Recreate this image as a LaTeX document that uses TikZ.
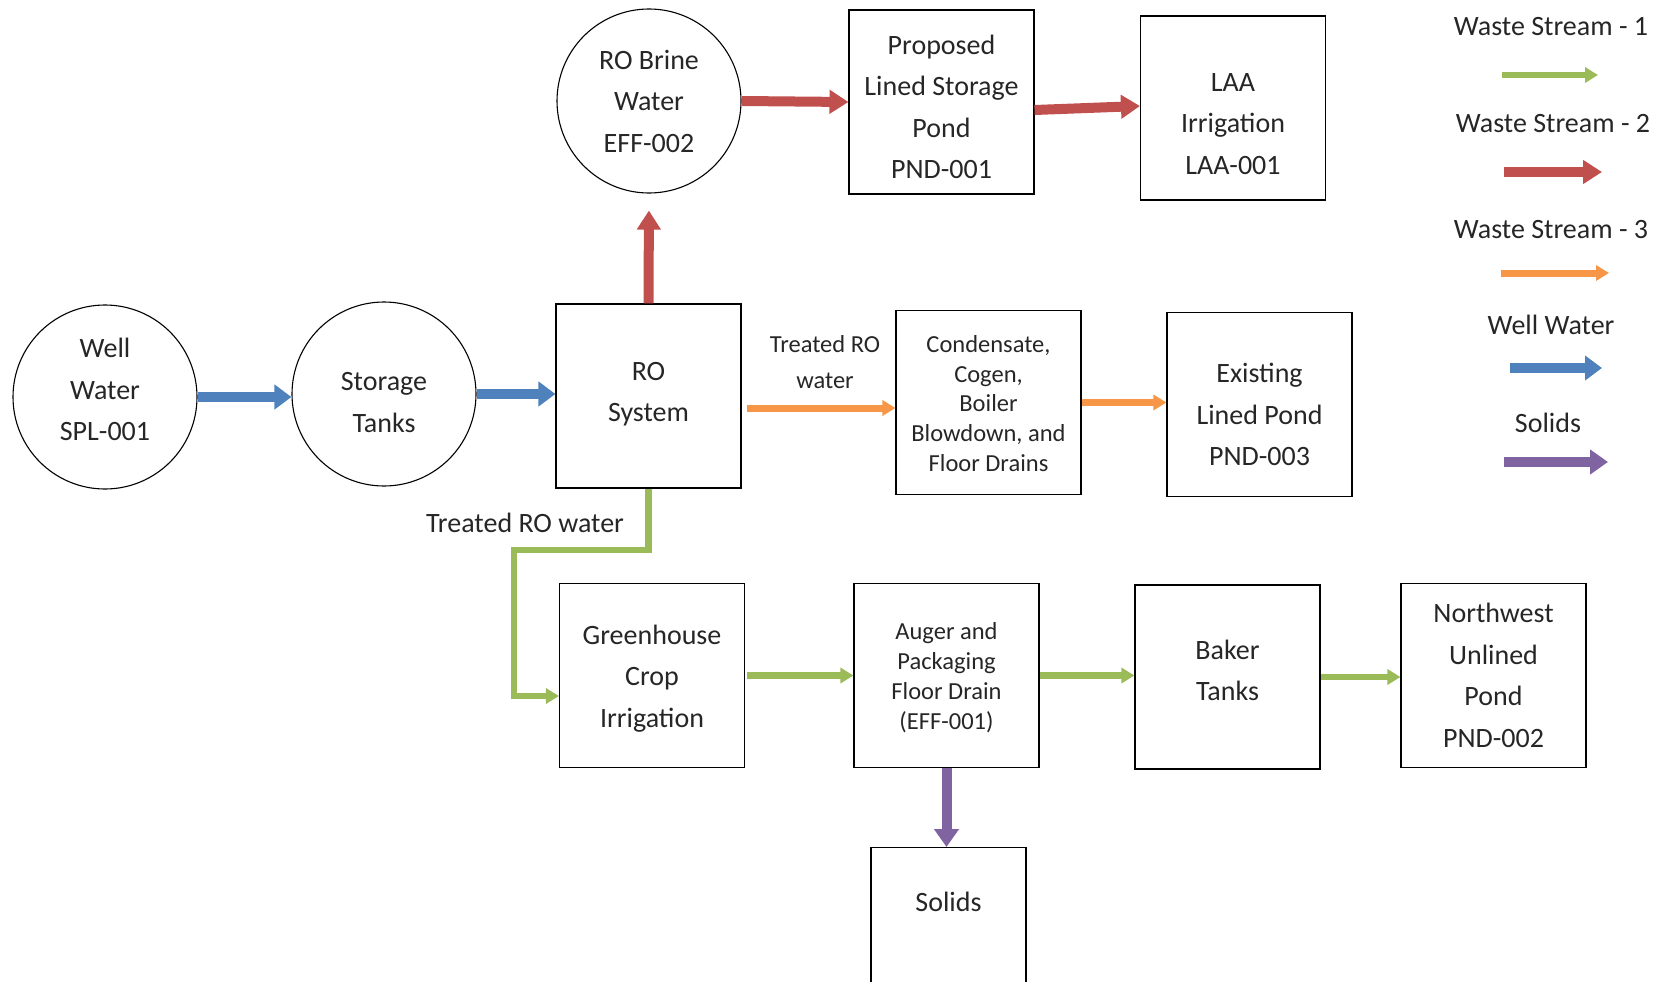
\documentclass[tikz,border=0pt]{standalone}
\usepackage{fontspec}
\setmainfont{Carlito}
\usetikzlibrary{arrows.meta}
\definecolor{wsgreen}{RGB}{155,187,89}
\definecolor{wsred}{RGB}{192,80,77}
\definecolor{wsorange}{RGB}{247,150,70}
\definecolor{wsblue}{RGB}{79,129,189}
\definecolor{wspurple}{RGB}{128,100,162}
\newcommand{\bigtxt}{\fontsize{28}{41.5}\selectfont}
\newcommand{\smalltxt}{\fontsize{24.5}{29.8}\selectfont}
\tikzset{
  circnode/.style={circle, draw=black, line width=1.1pt, minimum size=184pt, inner sep=0pt},
  boxnode/.style={rectangle, draw=black, line width=1.1pt, minimum width=185pt, minimum height=184pt, inner sep=0pt},
  txt/.style={align=center, text=black!85, inner sep=0pt, font=\bigtxt},
  stxt/.style={txt, font=\smalltxt},
  wsone/.style={draw=wsgreen, line width=6.5pt, -{Triangle[length=13pt,width=15pt]}},
  wstwo/.style={draw=wsred, line width=10pt, -{Triangle[length=19pt,width=23pt]}},
  wsthree/.style={draw=wsorange, line width=7pt, -{Triangle[length=13pt,width=15pt]}},
  wellw/.style={draw=wsblue, line width=10pt, -{Triangle[length=17pt,width=24pt]}},
  solidarr/.style={draw=wspurple, line width=10pt, -{Triangle[length=18pt,width=24pt]}}
}
\begin{document}
\begin{tikzpicture}[x=1pt, y=-1pt]
\useasboundingbox (0,0) rectangle (1667,982);
\clip (0,0) rectangle (1667,982);
% nodes
\node[circnode, label={[txt, yshift=7.5pt]center:{Well\\Water\\SPL-001}}] (well) at (105,397) {};
\node[circnode, label={[txt, yshift=-8.5pt]center:{Storage\\Tanks}}] (stor) at (384,394) {};
\node[boxnode, label={[txt, yshift=2pt]center:{RO\\System}}] (ro) at (648.5,396) {};
\node[circnode, label={[txt]center:{RO Brine\\Water\\EFF-002}}] (brine) at (649,101) {};
\node[boxnode, label={[txt, yshift=-5pt]center:{Proposed\\Lined Storage\\Pond\\PND-001}}] (prop) at (941.5,102) {};
\node[boxnode, label={[txt, yshift=-16pt]center:{LAA\\Irrigation\\LAA-001}}] (laa) at (1233,108) {};
\node[boxnode, label={[stxt, yshift=-1pt]center:{Condensate,\\Cogen,\\Boiler\\Blowdown, and\\Floor Drains}}] (cond) at (988.5,402.5) {};
\node[boxnode, label={[txt, yshift=-10pt]center:{Existing\\Lined Pond\\PND-003}}] (exist) at (1259.5,404.5) {};
\node[boxnode, label={[txt, yshift=-3pt]center:{Greenhouse\\Crop\\Irrigation}}] (green) at (652,675.5) {};
\node[boxnode, label={[stxt, yshift=-2pt]center:{Auger and\\Packaging\\Floor Drain\\(EFF-001)}}] (auger) at (946.5,675.5) {};
\node[boxnode, label={[txt, yshift=6.5pt]center:{Baker\\Tanks}}] (baker) at (1227.5,677) {};
\node[boxnode, label={[txt]center:{Northwest\\Unlined\\Pond\\PND-002}}] (nw) at (1493.5,675.5) {};
\node[boxnode, minimum width=155pt, minimum height=160pt, anchor=north, label={[txt, yshift=26pt]center:{Solids}}] (solids) at (948.5,847) {};
% labels
\node[txt] (lblb) at (525,523) {Treated RO water};
\node[stxt] (lblt) at (825,362) {Treated RO\\[7pt]water};
% connectors
\draw[wellw] (well.east) -- (well.east -| stor.west);
\draw[wellw] (stor.east) -- (stor.east -| ro.west);
\draw[wstwo, shorten >=17pt] (ro.north) -- (brine.south);
\draw[wstwo] (brine.east) -- (prop.west);
\draw[wstwo] ([yshift=-8pt]prop.east) -- ([yshift=2pt]laa.west);
\draw[wsthree] ([xshift=5pt,yshift=-12pt]ro.east) -- ([yshift=-12pt]ro.east -| cond.west);
\draw[wsthree] (cond.east) -- (cond.east -| exist.west);
\coordinate (gbend) at (514,550);
\draw[wsone] (ro.south) |- (gbend) |- ([yshift=-20.5pt]green.west);
\draw[wsone] ([xshift=2pt]green.east) -- (green.east -| auger.west);
\draw[wsone] (auger.east) -- (auger.east -| baker.west);
\draw[wsone] (baker.east) -- (baker.east -| nw.west);
\draw[solidarr] (auger.south) -- (auger.south |- solids.north);
% legend
\node[txt] (l1) at (1551,27) {Waste Stream - 1};
\coordinate (l1a) at (1502,75); \coordinate (l1b) at (1598,75);
\draw[wsone] (l1a) -- (l1b);
\node[txt] (l2) at (1553,124) {Waste Stream - 2};
\coordinate (l2a) at (1504,172); \coordinate (l2b) at (1602,172);
\draw[wstwo] (l2a) -- (l2b);
\node[txt] (l3) at (1551,230) {Waste Stream - 3};
\coordinate (l3a) at (1501,273); \coordinate (l3b) at (1609,273);
\draw[wsthree] (l3a) -- (l3b);
\node[txt] (l4) at (1551,325) {Well Water};
\coordinate (l4a) at (1510,368); \coordinate (l4b) at (1602,368);
\draw[wellw] (l4a) -- (l4b);
\node[txt] (l5) at (1548,423) {Solids};
\coordinate (l5a) at (1504,462); \coordinate (l5b) at (1608,462);
\draw[solidarr] (l5a) -- (l5b);
\end{tikzpicture}
\end{document}
